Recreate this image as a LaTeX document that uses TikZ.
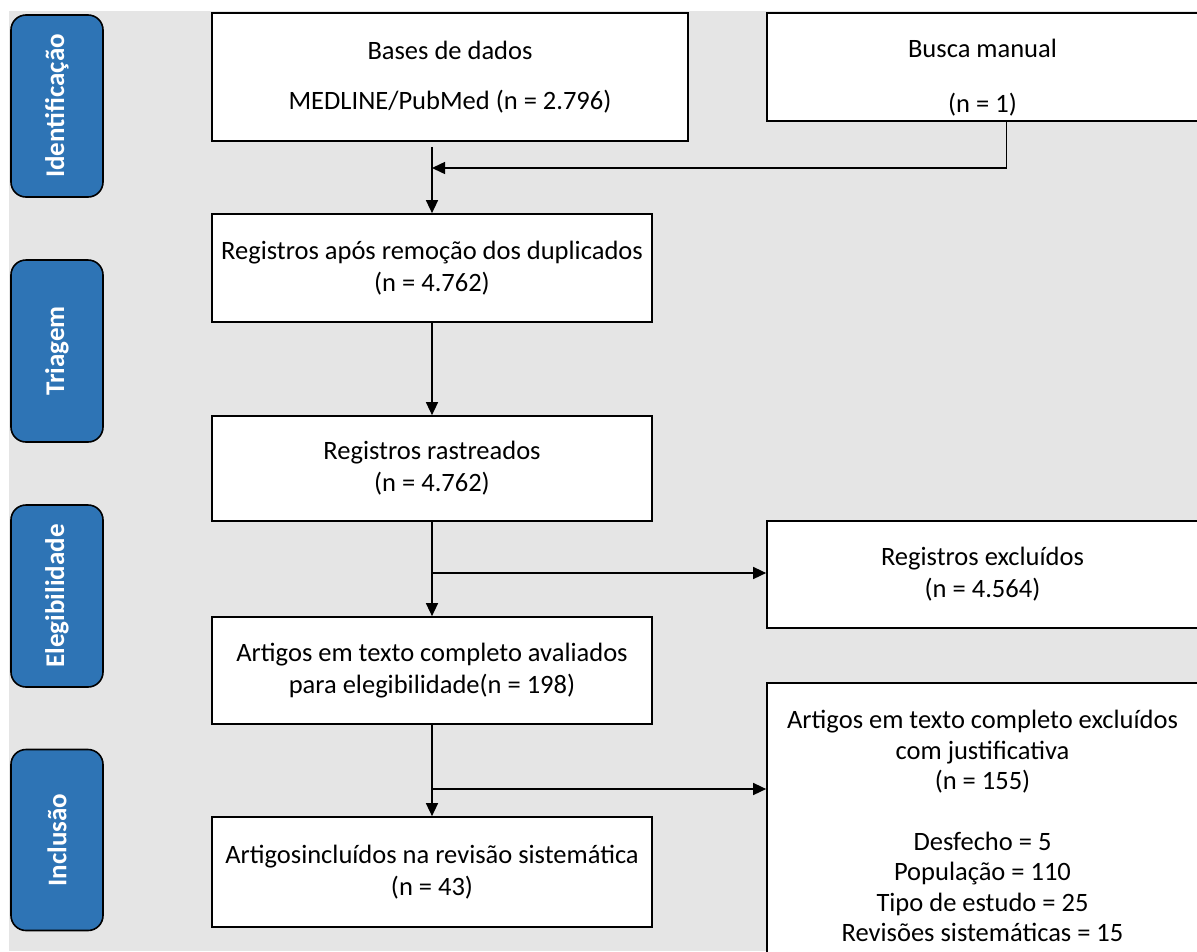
\documentclass[tikz,border=0pt]{standalone}
\usepackage{fontspec}
\setmainfont{Carlito}
\usetikzlibrary{arrows.meta,calc,positioning}
\definecolor{phaseBlue}{HTML}{2E74B5}
\definecolor{backGray} {HTML}{E5E5E5}
\tikzset{
  arrow/.style={-{Triangle[length=13pt,width=12pt]},draw=black,line width=1.5pt},
  flowbox/.style={rectangle,draw=black,line width=1.7pt,fill=white,align=center,
    inner sep=4pt,font=\fontsize{26.5}{32}\selectfont},
  phase/.style={rectangle,rounded corners=15pt,draw=black,line width=1.6pt,fill=phaseBlue,
    text=white,rotate=90,minimum height=92pt,font=\bfseries\fontsize{27}{30}\selectfont},
}

\begin{document}
\begin{tikzpicture}[x=1pt,y=-1pt]

\useasboundingbox (0,0) rectangle (1197,951);
\fill[backGray] (9,11) rectangle (1197,951);

% fases
\node[phase,minimum width=182pt] (identif) at (57,106) {Identificação};
\node[phase,minimum width=182pt] (triagem) at (57,351) {Triagem};
\node[phase,minimum width=182pt] (eleg) at (57,596) {Elegibilidade};
\node[phase,minimum width=181pt] (inclus) at (57,840) {Inclusão};

% identificacao
\node[flowbox,minimum width=476pt,minimum height=128pt] (bases) at (450,77)
  {Bases de dados\\[18pt]MEDLINE/PubMed (n = 2.796)};
\node[flowbox,minimum width=431pt,minimum height=108pt] (busca) at (982.5,67)
  {\rule{0pt}{40pt}Busca manual\\[23pt](n = 1)};

% triagem
\node[flowbox,minimum width=440pt,minimum height=108pt] (regdup) at (432,268)
  {Registros após remoção dos duplicados\\(n = 4.762)};
\node[flowbox,minimum width=440pt,minimum height=105pt] (regscreen) at (432,468.5)
  {Registros rastreados\\(n = 4.762)};
\node[flowbox,minimum width=431pt,minimum height=107pt] (regexcl) at (982.5,574.5)
  {Registros excluídos\\(n = 4.564)};

% elegibilidade / inclusao
\node[flowbox,minimum width=440pt,minimum height=107pt] (fulltext) at (432,670.5)
  {Artigos em texto completo avaliados\\para elegibilidade(n = 198)};
\node[flowbox,minimum width=431pt,minimum height=286pt,
      font=\fontsize{26.5}{30.5}\selectfont] (ftexcl) at (982.5,826)
  {Artigos em texto completo excluídos\\com justificativa\\(n = 155)\\[30pt]
   Desfecho = 5\\População = 110\\Tipo de estudo = 25\\Revisões sistemáticas = 15};
\node[flowbox,minimum width=440pt,minimum height=110pt] (included) at (432,872)
  {Artigosincluídos na revisão sistemática\\(n = 43)};

\coordinate (mergeA) at (regdup.north |- 0,168);
\coordinate (splitA) at (regscreen.south |- 0,573);
\coordinate (splitB) at (fulltext.south |- 0,789);

\draw[arrow] ([yshift=-5pt]regdup.north |- bases.south) -- (regdup.north);
\draw[arrow] ([xshift=24pt]busca.south) |- (mergeA);
\draw[arrow] (regdup.south) -- (regscreen.north);
\draw[arrow] (regscreen.south) -- (fulltext.north);
\draw[arrow] (splitA) -- (splitA -| regexcl.west);
\draw[arrow] (fulltext.south) -- (included.north);
\draw[arrow] (splitB) -- (splitB -| ftexcl.west);

\end{tikzpicture}
\end{document}
